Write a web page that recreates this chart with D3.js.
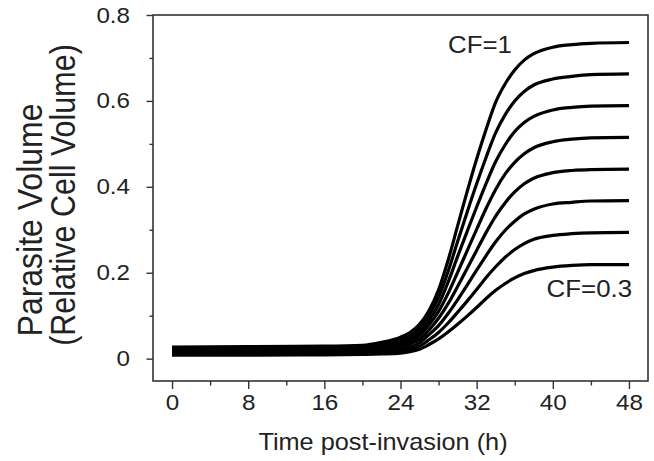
<!DOCTYPE html>
<html>
<head>
<meta charset="utf-8">
<script src="https://cdn.jsdelivr.net/npm/d3@7"></script>
<style>
  body { margin: 0; background: #fff; }
  text { font-family: "Liberation Sans", Arial, sans-serif; fill: #222; }
</style>
</head>
<body>
<div id="chart"></div>
<script>
// time points (h) and parasite volume for each CF curve
var hours = [0, 8, 16, 20, 22, 24, 25, 26, 27, 28, 29, 30, 31, 32, 33, 34, 35, 36, 37, 38, 40, 42, 44, 48];
var cf10 = [0.027, 0.028, 0.029, 0.031, 0.038, 0.050, 0.061, 0.080, 0.112, 0.160, 0.229, 0.309, 0.389, 0.465, 0.534, 0.597, 0.640, 0.672, 0.695, 0.710, 0.725, 0.731, 0.734, 0.736];
var cf09 = [0.024, 0.025, 0.026, 0.028, 0.034, 0.044, 0.053, 0.071, 0.101, 0.143, 0.203, 0.273, 0.341, 0.407, 0.469, 0.526, 0.568, 0.600, 0.622, 0.637, 0.651, 0.657, 0.661, 0.663];
var cf08 = [0.021, 0.022, 0.023, 0.025, 0.029, 0.038, 0.046, 0.062, 0.089, 0.126, 0.178, 0.238, 0.296, 0.353, 0.408, 0.459, 0.498, 0.529, 0.550, 0.564, 0.579, 0.585, 0.588, 0.589];
var cf07 = [0.019, 0.020, 0.021, 0.023, 0.026, 0.033, 0.040, 0.054, 0.079, 0.110, 0.152, 0.201, 0.251, 0.301, 0.350, 0.394, 0.430, 0.457, 0.477, 0.491, 0.505, 0.511, 0.514, 0.515];
var cf06 = [0.016, 0.016, 0.017, 0.019, 0.022, 0.028, 0.034, 0.045, 0.067, 0.094, 0.128, 0.168, 0.210, 0.252, 0.294, 0.332, 0.363, 0.388, 0.407, 0.420, 0.433, 0.438, 0.440, 0.441];
var cf05 = [0.013, 0.013, 0.014, 0.016, 0.018, 0.022, 0.027, 0.037, 0.056, 0.077, 0.105, 0.137, 0.171, 0.206, 0.240, 0.272, 0.299, 0.320, 0.337, 0.348, 0.360, 0.364, 0.367, 0.368];
var cf04 = [0.010, 0.010, 0.011, 0.012, 0.014, 0.017, 0.021, 0.029, 0.044, 0.061, 0.083, 0.108, 0.134, 0.161, 0.189, 0.214, 0.236, 0.254, 0.268, 0.278, 0.287, 0.291, 0.293, 0.294];
var cf03 = [0.008, 0.008, 0.009, 0.010, 0.011, 0.013, 0.016, 0.022, 0.033, 0.046, 0.062, 0.080, 0.099, 0.119, 0.140, 0.159, 0.175, 0.188, 0.198, 0.205, 0.213, 0.217, 0.219, 0.219];

var xTicks = [0, 8, 16, 24, 32, 40, 48];
var xMinor = [4, 12, 20, 28, 36, 44];
var yTicks = [0, 0.2, 0.4, 0.6, 0.8];
var yMinor = [0.1, 0.3, 0.5, 0.7];

var curveLabels = ["CF=1", "CF=0.3"];
var labelHours = [29.0, 39.35];
var labelVolumes = [0.712, 0.143];

var series = [cf10, cf09, cf08, cf07, cf06, cf05, cf04, cf03];

// the source figure is a bit stretched sideways, text is widened to match
var stretch = 1.1;

var margin = {top: 15, right: 6, bottom: 80, left: 153},
    width = 654 - margin.left - margin.right,
    height = 461 - margin.top - margin.bottom;

var svg = d3.select("#chart")
  .append("svg")
    .attr("width", width + margin.left + margin.right)
    .attr("height", height + margin.top + margin.bottom)
  .append("g")
    .attr("transform", "translate(" + margin.left + "," + margin.top + ")");

var x = d3.scaleLinear()
    .domain([-2, 50])
    .range([0, width]);

var y = d3.scaleLinear()
    .domain([-0.052, 0.8])
    .range([height, 0]);

// minor ticks first, no labels
svg.append("g")
    .attr("transform", "translate(0," + height + ")")
    .call(d3.axisBottom(x).tickValues(xMinor).tickSize(4.5).tickFormat(""))
    .call(function(g) { g.select(".domain").remove(); });
svg.append("g")
    .call(d3.axisLeft(y).tickValues(yMinor).tickSize(3.5).tickFormat(""))
    .call(function(g) { g.select(".domain").remove(); });

var xAxis = svg.append("g")
    .attr("transform", "translate(0," + height + ")")
    .call(d3.axisBottom(x).tickValues(xTicks).tickSize(8).tickPadding(5).tickFormat(d3.format("d")));
xAxis.select(".domain").remove();

var yAxis = svg.append("g")
    .call(d3.axisLeft(y).tickValues(yTicks).tickSize(6.5).tickPadding(16.5)
        .tickFormat(function(d) { return d === 0 ? "0" : d3.format(".1f")(d); }));
yAxis.select(".domain").remove();

svg.selectAll(".tick line").attr("stroke", "#333").attr("stroke-width", 1.4);

xAxis.selectAll("text")
    .attr("font-size", 22)
    .attr("x", 0)
    .attr("transform", "scale(" + stretch + ",1)");
yAxis.selectAll("text")
    .attr("font-size", 22)
    .attr("x", -23 / stretch)
    .attr("transform", "scale(" + stretch + ",1)");

// frame
svg.append("rect")
    .attr("width", width)
    .attr("height", height)
    .attr("fill", "none")
    .attr("stroke", "#333")
    .attr("stroke-width", 1.6);

var line = d3.line()
    .x(function(d, i) { return x(hours[i]); })
    .y(function(d) { return y(d); })
    .curve(d3.curveMonotoneX);

svg.selectAll(".cf")
    .data(series)
    .enter()
    .append("path")
      .attr("class", "cf")
      .attr("d", line)
      .attr("fill", "none")
      .attr("stroke", "#000")
      .attr("stroke-width", 3.2);

svg.selectAll(".cflabel")
    .data(curveLabels)
    .enter()
    .append("text")
      .attr("class", "cflabel")
      .attr("font-size", 23.5)
      .attr("transform", function(d, i) {
          return "translate(" + x(labelHours[i]) + "," + y(labelVolumes[i]) + ") scale(" + stretch + ",1)";
      })
      .text(function(d) { return d; });

// axis titles
svg.append("text")
    .attr("font-size", 23)
    .attr("text-anchor", "middle")
    .attr("transform", "translate(" + (383 - margin.left) + "," + (449.5 - margin.top) + ") scale(" + stretch + ",1)")
    .text("Time post-invasion (h)");

svg.append("text")
    .attr("font-size", 32)
    .attr("text-anchor", "middle")
    .attr("transform", "translate(" + (41.7 - margin.left) + "," + (220 - margin.top) + ") scale(1.1,1) rotate(-90)")
    .text("Parasite Volume");

svg.append("text")
    .attr("font-size", 30.5)
    .attr("text-anchor", "middle")
    .attr("transform", "translate(" + (75 - margin.left) + "," + (195 - margin.top) + ") scale(1.12,1) rotate(-90)")
    .text("(Relative Cell Volume)");
</script>
</body>
</html>
